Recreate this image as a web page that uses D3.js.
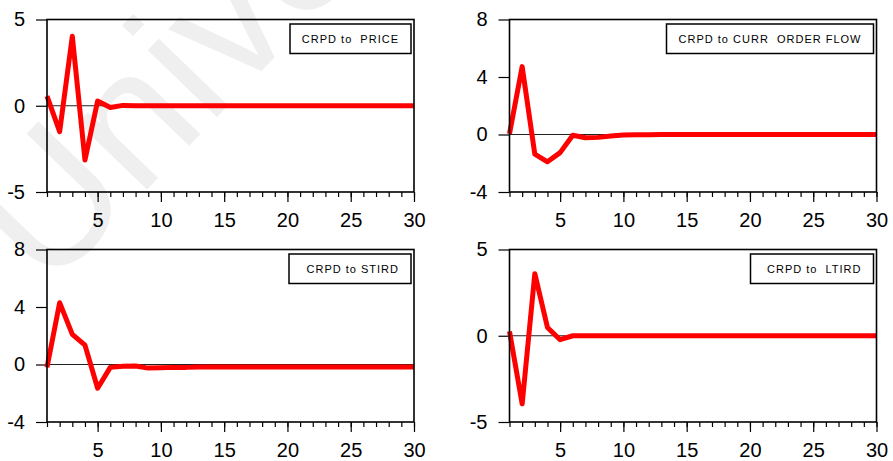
<!DOCTYPE html>
<html>
<head>
<meta charset="utf-8">
<script src="https://cdn.jsdelivr.net/npm/d3@7"></script>
<style>
  body { margin: 0; background: #fff; }
  svg { display: block; font-family: "Liberation Sans", Arial, sans-serif; }
</style>
</head>
<body>
<div class="container"></div>
<script>
// response periods
const periods = [1, 2, 3, 4, 5, 6, 7, 8, 9, 10, 11, 12, 13, 14, 15, 16, 17, 18, 19, 20, 21, 22, 23, 24, 25, 26, 27, 28, 29, 30];
const majorTicks = [5, 10, 15, 20, 25, 30];

// series
const price = [0.56, -1.5, 4.03, -3.15, 0.27, -0.1, 0.02, 0, 0, 0, 0, 0, 0, 0, 0, 0, 0, 0, 0, 0, 0, 0, 0, 0, 0, 0, 0, 0, 0, 0];
const currOrderFlow = [0.05, 4.72, -1.37, -1.9, -1.26, -0.05, -0.23, -0.2, -0.1, -0.03, -0.02, -0.01, 0, 0, 0, 0, 0, 0, 0, 0, 0, 0, 0, 0, 0, 0, 0, 0, 0, 0];
const stird = [-0.2, 4.3, 2.1, 1.35, -1.65, -0.2, -0.12, -0.1, -0.25, -0.22, -0.2, -0.2, -0.18, -0.18, -0.18, -0.18, -0.18, -0.18, -0.18, -0.18, -0.18, -0.18, -0.18, -0.18, -0.18, -0.18, -0.18, -0.18, -0.18, -0.18];
const ltird = [0.25, -3.95, 3.6, 0.48, -0.23, 0, 0, 0, 0, 0, 0, 0, 0, 0, 0, 0, 0, 0, 0, 0, 0, 0, 0, 0, 0, 0, 0, 0, 0, 0];

const titles = ['CRPD to  PRICE', 'CRPD to CURR  ORDER FLOW', 'CRPD to STIRD', 'CRPD to  LTIRD'];
const yDomains = [[-5, 5], [-4, 8], [-4, 8], [-5, 5]];
const yTicks = [[-5, 0, 5], [-4, 0, 4, 8], [-4, 0, 4, 8], [-5, 0, 5]];
const seriesList = [price, currOrderFlow, stird, ltird];

const width = 893;
const height = 461;
const colLeft = [47, 509.5];
const rowTop = [19.5, 249.5];
const plotW = 367;
const plotH = 172.5;
const legendW = [121, 207, 122, 123];

const svg = d3.select('.container').append('svg').attr('width', width).attr('height', height);

// faint watermark behind the charts
svg
  .append('text')
  .attr('transform', 'translate(47,293) rotate(-46)')
  .attr('font-size', 182)
  .attr('fill', '#efefef')
  .text('Universiti');

seriesList.forEach((values, i) => {
  const left = colLeft[i % 2];
  const top = rowTop[Math.floor(i / 2)];
  const g = svg.append('g').attr('transform', `translate(${left},${top})`);

  const x = d3.scaleLinear().domain([1, 30]).range([0, plotW]);
  const y = d3.scaleLinear().domain(yDomains[i]).range([plotH, 0]);

  // minor ticks at every period
  const minorAxis = g
    .append('g')
    .attr('transform', `translate(0,${plotH})`)
    .call(d3.axisBottom(x).tickValues(periods).tickSize(5).tickFormat(''));
  minorAxis.select('.domain').remove();

  const xAxis = g
    .append('g')
    .attr('transform', `translate(0,${plotH})`)
    .call(d3.axisBottom(x).tickValues(majorTicks).tickSize(10).tickPadding(11).tickFormat(d => String(d)));
  xAxis.select('.domain').remove();
  xAxis.selectAll('text').attr('font-size', 20).attr('font-family', null);

  const yAxis = g
    .append('g')
    .call(d3.axisLeft(y).tickValues(yTicks[i]).tickSize(11).tickPadding(11).tickFormat(d => String(d)));
  yAxis.select('.domain').remove();
  yAxis.selectAll('text').attr('font-size', 20).attr('font-family', null);
  g.selectAll('.tick line').attr('stroke', '#000').attr('stroke-width', 1.2);

  // zero line
  g.append('line')
    .attr('x1', 0)
    .attr('x2', plotW)
    .attr('y1', y(0))
    .attr('y2', y(0))
    .attr('stroke', '#222')
    .attr('stroke-width', 1);

  g.append('path')
    .datum(values)
    .attr('fill', 'none')
    .attr('stroke', '#ff0000')
    .attr('stroke-width', 5)
    .attr('stroke-linejoin', 'round')
    .attr('d', d3.line().x((d, k) => x(periods[k])).y(d => y(d)));

  g.append('rect')
    .attr('width', plotW)
    .attr('height', plotH)
    .attr('fill', 'none')
    .attr('stroke', '#000')
    .attr('stroke-width', 1.6);

  // legend box
  const lw = legendW[i];
  const legend = g.append('g').attr('transform', `translate(${plotW - 3 - lw},4.5)`);
  legend
    .append('rect')
    .attr('width', lw)
    .attr('height', 29.5)
    .attr('fill', '#fff')
    .attr('stroke', '#000')
    .attr('stroke-width', 1.5);
  legend
    .append('text')
    .attr('x', lw - 12)
    .attr('y', 19)
    .attr('text-anchor', 'end')
    .attr('font-size', 11)
    .attr('letter-spacing', 1)
    .style('white-space', 'pre')
    .text(titles[i]);
});
</script>
</body>
</html>
